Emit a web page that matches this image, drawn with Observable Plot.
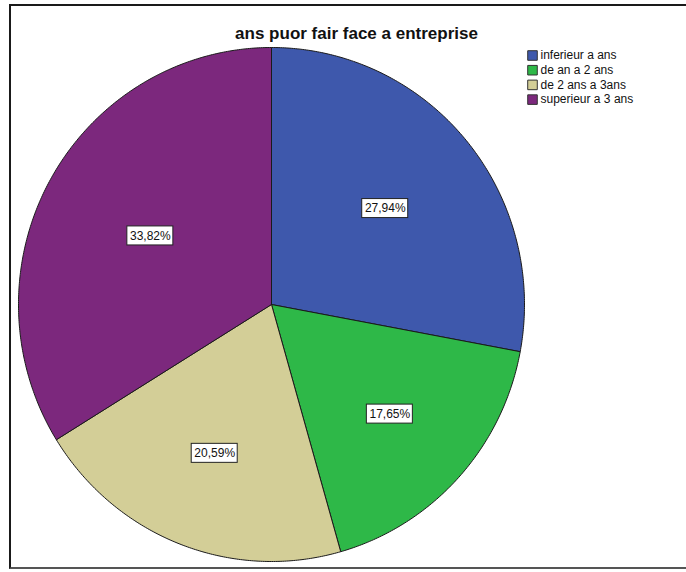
<!DOCTYPE html>
<html>
<head>
<meta charset="utf-8">
<script src="https://cdn.jsdelivr.net/npm/d3@7"></script>
<script src="https://cdn.jsdelivr.net/npm/@observablehq/plot@0.6"></script>
<style>
  html, body { margin: 0; padding: 0; background: #fff; }
  #wrap { position: relative; width: 686px; height: 572px; overflow: hidden; }
  #border { position: absolute; left: 9px; top: 4px; width: 690px; height: 561px;
            border-top: 2px solid #1a1a1a; border-left: 2px solid #1a1a1a; border-bottom: 2px solid #555;
            pointer-events: none; }
  #chart { position: absolute; left: 0; top: 0; }
</style>
</head>
<body>
<div id="wrap"><div id="chart"></div><div id="border"></div></div>
<script>
const title = "ans puor fair face a entreprise";
const categories = ["inferieur a ans", "de an a 2 ans", "de 2 ans a 3ans", "superieur a 3 ans"];
const percents = [27.94, 17.65, 20.59, 33.82];
const colors = ["#3e58ac", "#2eb848", "#d3ce97", "#7c287d"];

// Build slice outlines in unit-circle coordinates (angle clockwise from 12 o'clock)
const total = d3.sum(percents);
const slicePts = [];
const labels = [];
let acc = 0;
categories.forEach((c, i) => {
  const a0 = acc / total * 2 * Math.PI;
  acc += percents[i];
  const a1 = acc / total * 2 * Math.PI;
  const n = Math.max(4, Math.ceil((a1 - a0) / (Math.PI / 360)));
  slicePts.push({cat: c, x: 0, y: 0});
  for (let k = 0; k <= n; k++) {
    const a = a0 + (a1 - a0) * k / n;
    slicePts.push({cat: c, x: Math.sin(a), y: Math.cos(a)});
  }
  slicePts.push({cat: c, x: 0, y: 0});
  const h = (a1 - a0) / 2, m = (a0 + a1) / 2;
  const d = 2 * Math.sin(h) / (3 * h); // sector centroid
  labels.push({cat: c, x: d * Math.sin(m), y: d * Math.cos(m),
               text: percents[i].toFixed(2).replace(".", ",") + "%"});
});

const legendMarks = categories.flatMap((c, i) => [
  Plot.dot([c], {frameAnchor: "top-left", dx: 532, dy: 55 + i * 14.7, symbol: "square", r: 5.4,
                 fill: d => d, stroke: "#333", strokeWidth: 1}),
  Plot.text([c], {frameAnchor: "top-left", dx: 540, dy: 55 + i * 14.7, text: d => d,
                  textAnchor: "start", lineAnchor: "middle", fontSize: 12, fill: "#111"})
]);

const chart = Plot.plot({
  width: 686,
  height: 572,
  margin: 0,
  style: {fontFamily: "'Liberation Sans', Arial, sans-serif", background: "transparent"},
  x: {domain: [-1, 1], range: [18, 524], axis: null},
  y: {domain: [-1, 1], range: [561, 47], axis: null},
  color: {domain: categories, range: colors},
  marks: [
    Plot.line(slicePts, {x: "x", y: "y", z: "cat", fill: "cat", stroke: "#1a1a1a", strokeWidth: 1,
                         strokeLinejoin: "round", curve: "linear"}),
    Plot.rect(labels, {x1: "x", x2: "x", y1: "y", y2: "y",
                       insetLeft: -23, insetRight: -23, insetTop: -9.5, insetBottom: -9.5,
                       fill: "white", stroke: "#222", strokeWidth: 1}),
    Plot.text(labels, {x: "x", y: "y", text: "text", fontSize: 12, fill: "#111"}),
    Plot.text([title], {frameAnchor: "top", dx: 13, dy: 33, text: d => d, fontSize: 17,
                        fontWeight: "bold", fill: "#111", lineAnchor: "middle"}),
    ...legendMarks
  ]
});
document.getElementById("chart").appendChild(chart);
</script>
</body>
</html>
